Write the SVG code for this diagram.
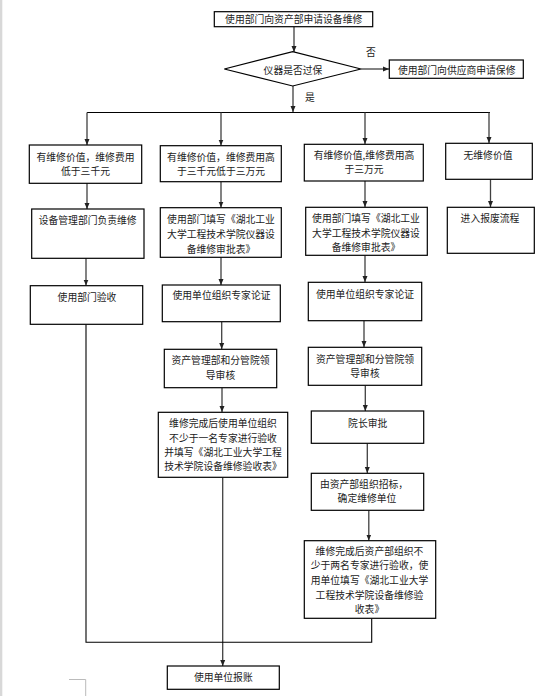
<svg xmlns="http://www.w3.org/2000/svg" width="553" height="696" viewBox="0 0 553 696">
<defs>
<style>
.box{fill:#fff;stroke:#000;stroke-width:1.2}
.t{font-family:"Noto Sans CJK SC","Liberation Sans",sans-serif;font-size:9.8px;fill:#222;text-anchor:middle;dominant-baseline:central}
.c{fill:none;stroke:#404040;stroke-width:1.3}
.l{fill:none;stroke:#000;stroke-width:1.1}
</style>
<marker id="ah" markerUnits="userSpaceOnUse" markerWidth="6" markerHeight="6" viewBox="0 0 6 6" refX="6" refY="3" orient="auto">
<path d="M0,0.5 L6,3 L0,5.5 Z" fill="#222"/>
</marker>
</defs>
<rect x="0" y="0" width="553" height="696" fill="#fff"/>
<rect x="0" y="0" width="2.3" height="696" fill="#d8d8d8"/>
<path d="M69,679.5 H85.7 V696" fill="none" stroke="#bbb" stroke-width="1"/>

<g id="connectors">
<line class="c" x1="294" y1="27" x2="294" y2="52" marker-end="url(#ah)"/>
<line class="c" x1="361" y1="69" x2="389" y2="69" marker-end="url(#ah)"/>
<line class="c" x1="293" y1="86" x2="293" y2="112" marker-end="url(#ah)"/>
<line class="l" x1="87" y1="112.5" x2="490" y2="112.5"/>
<line class="c" x1="87" y1="112.5" x2="87" y2="145" marker-end="url(#ah)"/>
<line class="c" x1="221" y1="112.5" x2="221" y2="145.5" marker-end="url(#ah)"/>
<line class="c" x1="365" y1="112.5" x2="365" y2="144" marker-end="url(#ah)"/>
<line class="c" x1="489" y1="112.5" x2="489" y2="143" marker-end="url(#ah)"/>
<line class="c" x1="87" y1="183" x2="87" y2="209" marker-end="url(#ah)"/>
<line class="c" x1="86" y1="258" x2="86" y2="285.5" marker-end="url(#ah)"/>
<line class="c" x1="221" y1="182" x2="221" y2="207.5" marker-end="url(#ah)"/>
<line class="c" x1="221" y1="257" x2="221" y2="285" marker-end="url(#ah)"/>
<line class="c" x1="221.7" y1="322" x2="221.7" y2="349" marker-end="url(#ah)"/>
<line class="c" x1="222" y1="388" x2="222" y2="412" marker-end="url(#ah)"/>
<line class="c" x1="222.7" y1="477.5" x2="222.7" y2="666" marker-end="url(#ah)"/>
<line class="c" x1="365" y1="181" x2="365" y2="207" marker-end="url(#ah)"/>
<line class="c" x1="365" y1="255.5" x2="365" y2="282" marker-end="url(#ah)"/>
<line class="c" x1="364" y1="321" x2="364" y2="347" marker-end="url(#ah)"/>
<line class="c" x1="365.3" y1="385.5" x2="365.3" y2="411" marker-end="url(#ah)"/>
<line class="c" x1="367.3" y1="443.5" x2="367.3" y2="473" marker-end="url(#ah)"/>
<line class="c" x1="368.8" y1="510.5" x2="368.8" y2="540.5" marker-end="url(#ah)"/>
<line class="c" x1="490.5" y1="179.5" x2="490.5" y2="207" marker-end="url(#ah)"/>
<polyline class="l" points="86,324.5 86,642.3 371.7,642.3 371.7,618.5"/>
<text class="t" x="371" y="52">否</text>
<text class="t" x="310" y="97">是</text>
</g>

<g id="n_start"><rect class="box" x="214.3" y="11.7" width="158.4" height="15"/><text class="t" x="293.7" y="18.8">使用部门向资产部申请设备维修</text></g>
<g id="n_decision"><polygon class="box" points="224.3,69 292.7,51.7 361,69 292.7,86"/><text class="t" x="293" y="69.5">仪器是否过保</text></g>
<g id="n_supplier"><rect class="box" x="389.3" y="60" width="134" height="18.3"/><text class="t" x="456.7" y="70">使用部门向供应商申请保修</text></g>

<g id="n_a1"><rect class="box" x="29.3" y="145" width="112.4" height="38.3"/><text class="t" x="85.5" y="156.7">有维修价值，维修费用</text><text class="t" x="85.5" y="170.7">低于三千元</text></g>
<g id="n_b1"><rect class="box" x="160.3" y="145.7" width="121" height="36"/><text class="t" x="221" y="156.7">有维修价值，维修费用高</text><text class="t" x="221" y="170.5">于三千元低于三万元</text></g>
<g id="n_c1"><rect class="box" x="304.3" y="144.3" width="119" height="36.7"/><text class="t" x="364" y="155">有维修价值,维修费用高</text><text class="t" x="364" y="169.3">于三万元</text></g>
<g id="n_d1"><rect class="box" x="445.7" y="143.3" width="86.6" height="36"/><text class="t" x="488" y="154.5">无维修价值</text></g>

<g id="n_a2"><rect class="box" x="31.7" y="209" width="112.3" height="49.3"/><text class="t" x="87.7" y="220">设备管理部门负责维修</text></g>
<g id="n_b2"><rect class="box" x="160.3" y="207.7" width="121" height="49.6"/><text class="t" x="221" y="219.3">使用部门填写《湖北工业</text><text class="t" x="221" y="234">大学工程技术学院仪器设</text><text class="t" x="221" y="248.5">备维修审批表》</text></g>
<g id="n_c2"><rect class="box" x="305.7" y="207.3" width="121.6" height="48"/><text class="t" x="366" y="218.3">使用部门填写《湖北工业</text><text class="t" x="366" y="232.7">大学工程技术学院仪器设</text><text class="t" x="366" y="246.7">备维修审批表》</text></g>
<g id="n_d2"><rect class="box" x="447.3" y="207.3" width="87" height="46"/><text class="t" x="490" y="217.5">进入报废流程</text></g>

<g id="n_a3"><rect class="box" x="30.3" y="285.7" width="112.4" height="38.6"/><text class="t" x="87" y="296.7">使用部门验收</text></g>
<g id="n_b3"><rect class="box" x="162.3" y="285" width="118" height="36.7"/><text class="t" x="221.5" y="295">使用单位组织专家论证</text></g>
<g id="n_c3"><rect class="box" x="308.3" y="282.3" width="113.4" height="38.4"/><text class="t" x="365" y="293.5">使用单位组织专家论证</text></g>

<g id="n_b4"><rect class="box" x="164.3" y="349.3" width="112.4" height="38.4"/><text class="t" x="220.5" y="360">资产管理部和分管院领</text><text class="t" x="220.5" y="375">导审核</text></g>
<g id="n_c4"><rect class="box" x="308.3" y="347.3" width="113.4" height="38"/><text class="t" x="365" y="359">资产管理部和分管院领</text><text class="t" x="365" y="373">导审核</text></g>

<g id="n_b5"><rect class="box" x="158.3" y="412.3" width="129.4" height="65"/><text class="t" x="223" y="423.3">维修完成后使用单位组织</text><text class="t" x="223" y="437.5">不少于一名专家进行验收</text><text class="t" x="223" y="451.7">并填写《湖北工业大学工程</text><text class="t" x="223" y="466">技术学院设备维修验收表》</text></g>
<g id="n_c5"><rect class="box" x="311.3" y="411" width="112.4" height="32.3"/><text class="t" x="367.7" y="423.3">院长审批</text></g>
<g id="n_c6"><rect class="box" x="311.3" y="473.3" width="112.4" height="37"/><text class="t" x="364" y="483.5">由资产部组织招标，</text><text class="t" x="367" y="498.3">确定维修单位</text></g>
<g id="n_c7"><rect class="box" x="304.3" y="540.7" width="131.4" height="77.6"/><text class="t" x="369.5" y="551">维修完成后资产部组织不</text><text class="t" x="369.5" y="565.3">少于两名专家进行验收，使</text><text class="t" x="369.5" y="580">用单位填写《湖北工业大学</text><text class="t" x="369.5" y="594.8">工程技术学院设备维修验</text><text class="t" x="369.5" y="608.5">收表》</text></g>

<g id="n_end"><rect class="box" x="167.3" y="666" width="112" height="23.3"/><text class="t" x="223.3" y="677">使用单位报账</text></g>
</svg>
